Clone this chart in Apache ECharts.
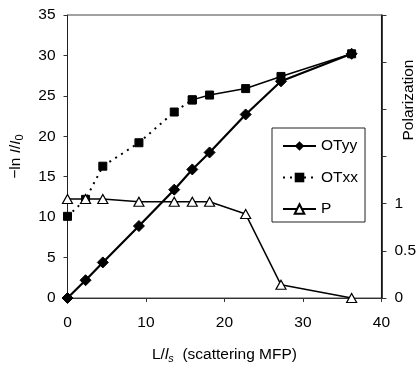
<!DOCTYPE html>
<html>
<head>
<meta charset="utf-8">
<script src="https://cdn.jsdelivr.net/npm/echarts@6/dist/echarts.min.js"></script>
<style>html,body{margin:0;padding:0;background:#fff;}#c{width:419px;height:369px;}</style>
</head>
<body>
<div id="c"></div>
<script>
// Data
const xValues = [0, 2.3, 4.5, 9.1, 13.6, 15.9, 18.1, 22.7, 27.2, 36.2];
const otyy = [0, 2.2, 4.4, 8.9, 13.4, 15.9, 18.0, 22.7, 26.8, 30.2];
const otxx = [10.1, 12.2, 16.3, 19.2, 23.0, 24.5, 25.1, 25.9, 27.4, 30.2];
const pol = [1.05, 1.05, 1.05, 1.02, 1.02, 1.02, 1.02, 0.89, 0.14, 0.0];
const xTicks = [0, 10, 20, 30, 40];
const leftTicks = [0, 5, 10, 15, 20, 25, 30, 35];
const rightTickLabels = [0, 0.5, 1];
const otxxDottedEnd = 5; // index where the dotted part of OTxx ends

const pairs = (xs, ys) => xs.map((x, i) => [x, ys[i]]);
const otxxPts = pairs(xValues, otxx);

const FONT = 'Liberation Sans, Arial, sans-serif';
const chart = echarts.init(document.getElementById('c'), null, {renderer: 'canvas'});
chart.setOption({
  backgroundColor: '#fff',
  animation: false,
  textStyle: {fontFamily: FONT, color: '#000'},
  grid: {left: 65, right: 36, top: 15, bottom: 64, show: true, borderColor: '#444', borderWidth: 1},
  legend: {
    orient: 'vertical', left: 272, top: 128,
    data: ['OTyy', 'OTxx', 'P'],
    backgroundColor: '#fff', borderColor: '#222', borderWidth: 1,
    padding: [10, 7, 5, 10],
    itemWidth: 33, itemHeight: 12, itemGap: 15.5,
    textStyle: {fontFamily: FONT, fontSize: 15.5, color: '#000', lineHeight: 16}
  },
  xAxis: {
    type: 'value', min: xTicks[0], max: xTicks[xTicks.length - 1], interval: 10,
    axisLine: {lineStyle: {color: '#333', width: 1}},
    axisTick: {length: 4, lineStyle: {color: '#333'}},
    splitLine: {show: false},
    axisLabel: {fontFamily: FONT, fontSize: 15.5, color: '#000', margin: 17},
    name: 'L/{i|l}{s|s}  (scattering MFP)',
    nameLocation: 'middle', nameGap: 47,
    nameTextStyle: {fontFamily: FONT, fontSize: 15.5, color: '#000',
      rich: {i: {fontStyle: 'italic', fontSize: 15.5, fontFamily: FONT},
             s: {fontStyle: 'italic', fontSize: 11, fontFamily: FONT, padding: [8, 0, 0, 0]}}}
  },
  yAxis: [{
    type: 'value', min: leftTicks[0], max: leftTicks[leftTicks.length - 1], interval: 5,
    axisLine: {show: true, lineStyle: {color: '#222', width: 1}},
    axisTick: {show: true, length: 4, lineStyle: {color: '#333'}},
    splitLine: {show: false},
    axisLabel: {fontFamily: FONT, fontSize: 15.5, color: '#000', margin: 12},
    name: '{a|\u2212ln }{i|I}{a|/}{i|I}{s|0}',
    nameLocation: 'middle', nameGap: 42,
    nameTextStyle: {fontFamily: FONT, fontSize: 15.5, color: '#000',
      rich: {a: {fontSize: 15.5, fontFamily: FONT},
             i: {fontStyle: 'italic', fontSize: 15.5, fontFamily: FONT},
             s: {fontSize: 11, fontFamily: FONT, padding: [8, 0, 0, 0]}}}
  }, {
    type: 'value', min: 0, max: 3, interval: 0.5, position: 'right',
    axisLine: {show: true, lineStyle: {color: '#000', width: 1.5}},
    axisTick: {show: true, length: 5, lineStyle: {color: '#333'}},
    splitLine: {show: false},
    axisLabel: {fontFamily: FONT, fontSize: 15.5, color: '#000', margin: 13,
      formatter: v => rightTickLabels.indexOf(v) >= 0 ? String(v) : ''}
  }],
  graphic: [{
    type: 'text', x: 409, y: 100, rotation: Math.PI / 2,
    style: {text: 'Polarization', fontFamily: FONT, fontSize: 15.5, fill: '#000',
      textAlign: 'center', textVerticalAlign: 'middle'}
  }],
  series: [{
    name: 'OTyy', type: 'line', data: pairs(xValues, otyy),
    symbol: 'diamond', symbolSize: 11,
    lineStyle: {color: '#000', width: 2.2},
    itemStyle: {color: '#000', borderColor: '#000'}, z: 3
  }, {
    name: 'OTxx', type: 'line', data: otxxPts.slice(0, otxxDottedEnd + 1),
    symbol: 'rect', symbolSize: 8,
    lineStyle: {color: '#000', width: 2, type: [2, 5]},
    itemStyle: {color: '#000', borderColor: '#000'}, z: 2
  }, {
    name: 'OTxx-solid', type: 'line', data: otxxPts.slice(otxxDottedEnd),
    symbol: 'rect', symbolSize: 8,
    lineStyle: {color: '#000', width: 1.5},
    itemStyle: {color: '#000', borderColor: '#000'}, z: 2
  }, {
    name: 'P', type: 'line', yAxisIndex: 1, data: pairs(xValues, pol),
    symbol: 'triangle', symbolSize: [10, 9],
    lineStyle: {color: '#000', width: 1.5},
    itemStyle: {color: '#fff', borderColor: '#000', borderWidth: 1.2}, z: 4
  }]
});
</script>
</body>
</html>
